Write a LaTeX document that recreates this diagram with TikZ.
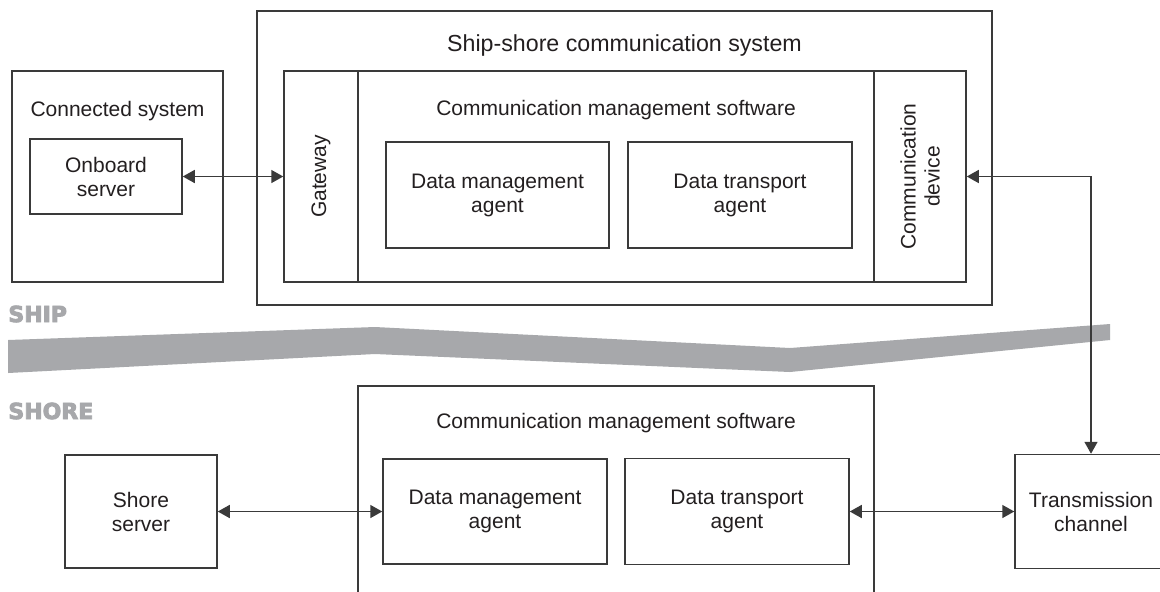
\documentclass[tikz,border=0pt]{standalone}
\usepackage{fontspec}
\setmainfont{Liberation Sans}
\newfontfamily\labelfont[FakeBold=4]{DejaVu Sans Bold}
\usetikzlibrary{arrows.meta}
\definecolor{linec}{HTML}{3A3A3A}
\definecolor{textc}{HTML}{231F20}
\definecolor{bandc}{HTML}{A7A8AB}
\tikzset{
  box/.style={draw=linec, line width=0.75pt, rectangle, inner sep=0pt, align=center,
    text=textc, font=\fontsize{10.5}{12}\selectfont},
  lbl/.style={text=textc, inner sep=0pt, font=\fontsize{10.5}{12}\selectfont},
  ttl/.style={text=textc, inner sep=0pt, font=\fontsize{11.6}{13}\selectfont},
  side/.style={text=bandc, inner sep=0pt, anchor=base west, font=\labelfont\fontsize{11}{12}\selectfont},
  conn/.style={draw=linec, line width=0.75pt, {Triangle[length=6pt,width=6.5pt]}-{Triangle[length=6pt,width=6.5pt]}}
}
\begin{document}
\begin{tikzpicture}[x=0.5pt, y=-0.5pt]
\clip (0,0) rectangle (1160,591);
\fill[white] (0,0) rectangle (1160,591);
% band
\fill[bandc] (8,340) -- (375,327) -- (790,348) -- (1110,324) -- (1110,340) -- (790,372) -- (375,354) -- (8,373) -- cycle;
\node[side] (ship) at (8,322) {SHIP};
\node[side] (shore) at (8,419) {SHORE};
% ship side
\node[box, minimum width=367.5pt, minimum height=147pt] (shipsys) at (624.5,158) {};
\node[ttl] (shiptitle) at (624.5,45) {Ship-shore communication system};
\node[box, minimum width=105.5pt, minimum height=105.5pt] (connsys) at (117.5,176.5) {};
\node[lbl] (conntitle) at (117.5,111) {Connected system};
\node[box, minimum width=76pt, minimum height=37.5pt] (onboard) at (106,176.5) {Onboard\\server};
\node[box, minimum width=341pt, minimum height=105.5pt] (shipcms) at (625,176.5) {};
\node[lbl] (shipcmstitle) at (616,110) {Communication management software};
\node[box, minimum width=37pt, minimum height=105.5pt] (gateway) at (321,176.5) {};
\node[lbl, rotate=90] (gatewaytxt) at (321,176.5) {Gateway};
\node[box, minimum width=46pt, minimum height=105.5pt] (commdev) at (920,176.5) {};
\node[lbl, rotate=90, align=center] (commdevtxt) at (920,176.5) {Communication\\device};
\node[box, minimum width=111.5pt, minimum height=53pt] (sdma) at (497.5,195) {Data management\\agent};
\node[box, minimum width=112pt, minimum height=53pt] (sdta) at (740,195) {Data transport\\agent};
% shore side
\node[box, minimum width=258pt, minimum height=117pt] (shorecms) at (616,503) {};
\node[lbl] (shorecmstitle) at (616,423) {Communication management software};
\node[box, minimum width=76pt, minimum height=56.5pt] (shoreserver) at (141,511.5) {Shore\\server};
\node[box, minimum width=112pt, minimum height=52.5pt] (hdma) at (495,511.5) {Data management\\agent};
\node[box, minimum width=112pt, minimum height=53pt] (hdta) at (737,511.5) {Data transport\\agent};
\node[box, minimum width=76pt, minimum height=57pt] (tc) at (1091,511.5) {Transmission\\channel};
% connectors
\draw[conn] (onboard.east) -- (gateway.west);
\draw[conn] (commdev.east) -| (tc.north);
\draw[conn] (shoreserver.east) -- (hdma.west);
\draw[conn] (hdta.east) -- (tc.west);
\end{tikzpicture}
\end{document}
